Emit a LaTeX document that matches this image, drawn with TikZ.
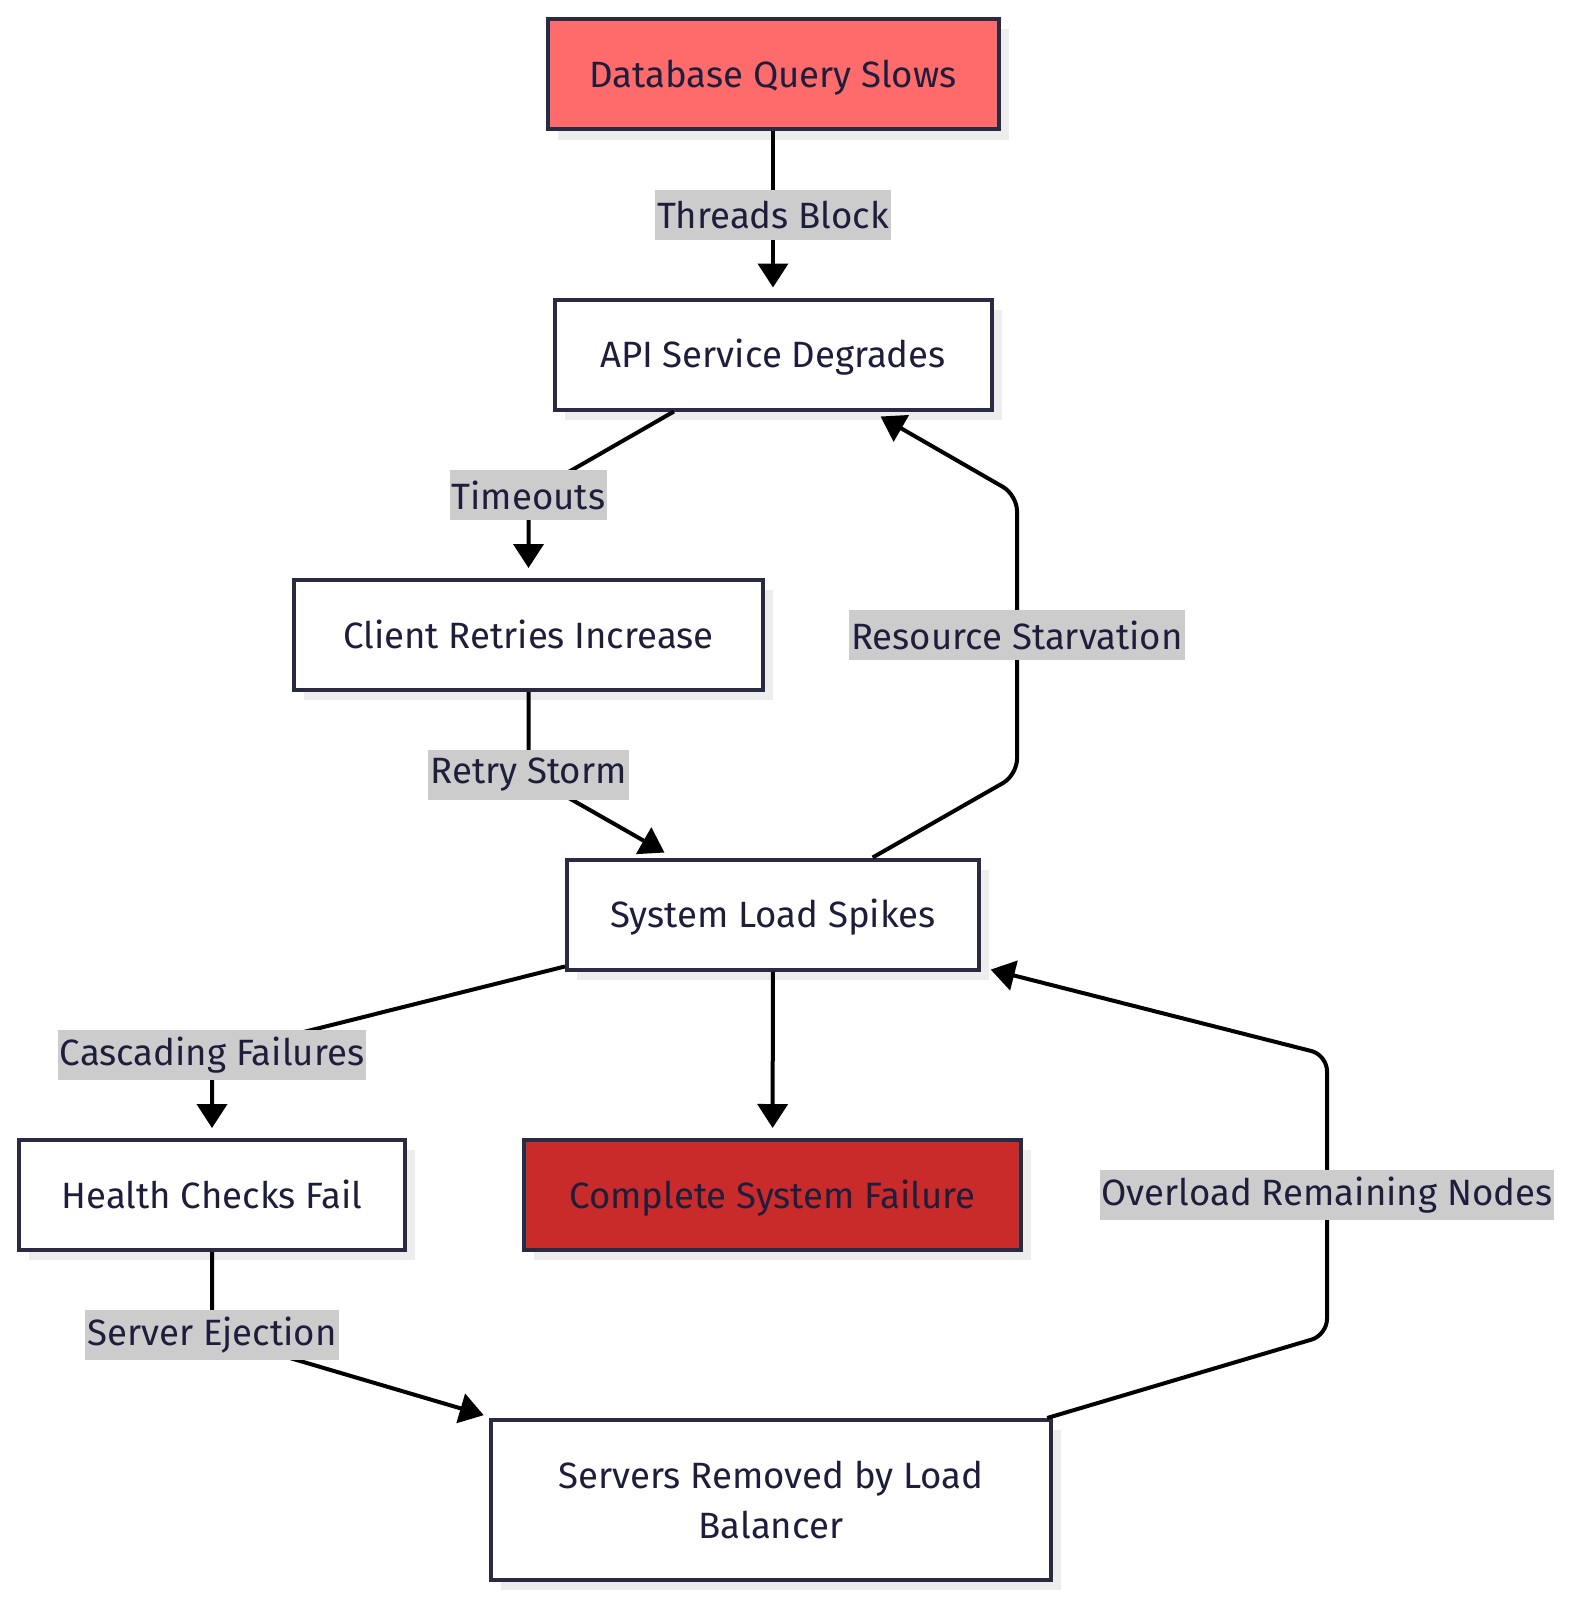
\documentclass[tikz,border=0pt]{standalone}
\usepackage{fontspec}
\setmainfont{Fira Sans}
\usetikzlibrary{arrows.meta,shadows}
\definecolor{ink}{HTML}{1E1E3C}
\definecolor{rim}{HTML}{2A2A42}
\definecolor{hot}{HTML}{FF6B6B}
\definecolor{dead}{HTML}{C92A2A}
\definecolor{tag}{HTML}{CCCCCC}
\tikzset{
  box/.style = {draw = rim, line width = 2pt, fill = white, text = ink,
    minimum height = 55pt, align = center, inner sep = 0pt,
    drop shadow = {shadow xshift = 5pt, shadow yshift = -5pt,
      fill = black!7, opacity = 1}},
  lbl/.style = {fill = tag, text = ink, inner xsep = 1pt, inner ysep = 0pt,
    minimum height = 25pt, sharp corners},
  edge/.style = {line width = 2pt, shorten > = 5pt,
    -{Triangle[length = 12pt, width = 15pt]}}
}
\begin{document}
\begin{tikzpicture}[x = .5pt, y = -.5pt, font = \fontsize{18.3}{25}\selectfont]
  \useasboundingbox (0,0) rectangle (1570,1600);
  \node [box, fill = hot, minimum width = 225.5pt, text depth = 1pt] (db)
    at (773,74.5) {Database Query Slows};
  \node [box, minimum width = 218.5pt, text depth = 1pt] (api)
    at (773,354.5) {API Service Degrades};
  \node [box, minimum width = 234.5pt, text depth = 1pt] (client)
    at (528.5,635) {Client Retries Increase};
  \node [box, minimum width = 206pt, text depth = 1pt] (load)
    at (773,914.5) {System Load Spikes};
  \node [box, minimum width = 193pt, text depth = 1pt] (health)
    at (212,1195) {Health Checks Fail};
  \node [box, fill = dead, minimum width = 248.5pt, text depth = 1pt] (fail)
    at (772.5,1195) {Complete System Failure};
  \node [box, minimum width = 280pt, minimum height = 80pt] (lb) at (771,1500)
    {Servers Removed by Load\\Balancer};

  \draw [edge] (db) -- node [lbl] {Threads Block} (api);
  \draw [edge] (api) -- (528.5,495) node [lbl] {Timeouts} -- (client);
  \draw [edge] (client) -- (528.5,775) node [lbl] {Retry Storm} -- (load);
  \draw [edge, rounded corners = 8pt] (load) -- (1017,775)
    -- node [lbl] {Resource Starvation} (1017,495) -- (api);
  \draw [edge] (load) -- (212,1055) node [lbl] {Cascading Failures} -- (health);
  \draw [edge] (load) -- (fail);
  \draw [edge] (health) -- (212,1335) node [lbl] {Server Ejection} -- (lb);
  \draw [edge, rounded corners = 8pt] (lb) -- (1327,1335)
    -- node [lbl] {Overload Remaining Nodes} (1327,1055) -- (load);
\end{tikzpicture}
\end{document}
